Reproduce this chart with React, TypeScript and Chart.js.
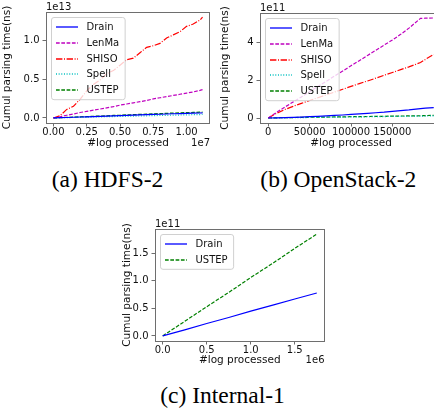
import React, { useEffect, useRef } from 'react';
import { Chart, registerables } from 'chart.js';

Chart.register(...registerables);

const FONT = '"DejaVu Sans", sans-serif';
const TEXT = '#111';
const SPINE = '#6e6e6e';

// ---------- (a) HDFS-2 : x = #log processed, y in units of 1e13 ns ----------
const hdfsLogs = [0, 500000, 1000000, 1500000, 2000000, 2500000, 3000000, 3500000, 4000000, 4500000, 5000000, 5500000, 6000000, 6500000, 7000000, 7500000, 8000000, 8500000, 9000000, 9500000, 10000000, 10500000, 11000000, 11200000];
const hdfsDrain = [0, 0.003, 0.006, 0.009, 0.012, 0.015, 0.018, 0.021, 0.024, 0.027, 0.03, 0.033, 0.036, 0.039, 0.042, 0.045, 0.048, 0.051, 0.054, 0.056, 0.059, 0.061, 0.064, 0.065];
const hdfsLenMa = [0, 0.015, 0.035, 0.05, 0.07, 0.085, 0.1, 0.115, 0.13, 0.145, 0.165, 0.18, 0.195, 0.21, 0.225, 0.245, 0.26, 0.275, 0.29, 0.305, 0.32, 0.335, 0.355, 0.365];
const hdfsSHISO = [0, 0.03, 0.11, 0.15, 0.24, 0.35, 0.43, 0.49, 0.57, 0.61, 0.68, 0.75, 0.77, 0.84, 0.91, 0.93, 0.96, 1.03, 1.07, 1.11, 1.18, 1.21, 1.26, 1.3];
const hdfsSpell = [0, 0.002, 0.004, 0.006, 0.008, 0.01, 0.012, 0.014, 0.016, 0.018, 0.02, 0.022, 0.024, 0.026, 0.028, 0.03, 0.032, 0.034, 0.036, 0.038, 0.04, 0.042, 0.044, 0.045];
const hdfsUSTEP = [0, 0.004, 0.007, 0.011, 0.014, 0.018, 0.021, 0.025, 0.028, 0.032, 0.035, 0.039, 0.042, 0.046, 0.049, 0.052, 0.056, 0.059, 0.063, 0.066, 0.069, 0.071, 0.074, 0.075];
const hdfsXTicks = [0, 2500000, 5000000, 7500000, 10000000];
const hdfsYTicks = [0, 0.5e13, 1.0e13];

// ---------- (b) OpenStack-2 : y in units of 1e11 ns ----------
const osLogs = [0, 10000, 20000, 30000, 40000, 50000, 60000, 70000, 80000, 90000, 100000, 110000, 120000, 130000, 140000, 150000, 160000, 170000, 184000, 190000, 200000];
const osDrain = [0, 0.01, 0.02, 0.035, 0.05, 0.07, 0.09, 0.11, 0.135, 0.16, 0.19, 0.22, 0.25, 0.28, 0.31, 0.35, 0.39, 0.43, 0.5, 0.53, 0.55];
const osLenMa = [0, 0.3, 0.58, 0.85, 1.12, 1.4, 1.68, 1.95, 2.23, 2.5, 2.78, 3.05, 3.33, 3.6, 3.88, 4.15, 4.45, 4.78, 5.3, 5.31, 5.32];
const osSHISO = [0, 0.25, 0.45, 0.62, 0.78, 0.93, 1.08, 1.23, 1.38, 1.53, 1.68, 1.83, 1.97, 2.12, 2.27, 2.42, 2.57, 2.72, 2.95, 3.12, 3.38];
const osSpell = [0, 0.005, 0.011, 0.016, 0.022, 0.027, 0.033, 0.038, 0.044, 0.049, 0.055, 0.06, 0.066, 0.071, 0.077, 0.082, 0.088, 0.093, 0.101, 0.104, 0.11];
const osUSTEP = [0, 0.01, 0.02, 0.025, 0.03, 0.04, 0.045, 0.05, 0.055, 0.06, 0.07, 0.075, 0.08, 0.085, 0.09, 0.1, 0.105, 0.11, 0.12, 0.13, 0.14];
const osXTicks = [0, 50000, 100000, 150000];
const osYTicks = [0, 2e11, 4e11];

// ---------- (c) Internal-1 : y in units of 1e11 ns ----------
const intLogs = [0, 250000, 500000, 750000, 1000000, 1250000, 1500000, 1750000];
const intDrain = [0, 0.11, 0.225, 0.335, 0.45, 0.56, 0.67, 0.78];
const intUSTEP = [0, 0.265, 0.53, 0.79, 1.06, 1.32, 1.59, 1.85];
const intXTicks = [0, 500000, 1000000, 1500000];
const intYTicks = [0, 0.5e11, 1.0e11, 1.5e11];

const captions = ['(a) HDFS-2', '(b) OpenStack-2', '(c) Internal-1'];

const STYLE: Record<string, { color: string; dash: number[] }> = {
  Drain: { color: '#0000ff', dash: [] },
  LenMa: { color: '#bf00bf', dash: [3.7, 1.6] },
  SHISO: { color: '#ff0000', dash: [6.4, 1.6, 1, 1.6] },
  Spell: { color: '#00bfbf', dash: [1, 1.65] },
  USTEP: { color: '#008000', dash: [3.7, 1.6] },
};

type Series = { label: string; xs: number[]; ys: number[] };
type Panel = {
  left: number; top: number; width: number; height: number;
  padTop: number; padRight: number; yW: number; xH: number;
  xTitlePB: number; yTitlePT: number;
  xMin: number; xMax: number; xTicks: number[]; xFmt: (v: number) => string;
  yMin: number; yMax: number; yTicks: number[]; yFmt: (v: number) => string;
  yScale: number; yOffset: string; xOffset: string;
  series: Series[];
};

const panels: Panel[] = [
  {
    left: 0, top: 0, width: 217, height: 152, padTop: 12, padRight: 7, yW: 46, xH: 29,
    xTitlePB: 2, yTitlePT: 1.2,
    xMin: -560000, xMax: 11760000, xTicks: hdfsXTicks, xFmt: (v) => (v / 1e7).toFixed(2),
    yMin: -0.065e13, yMax: 1.365e13, yTicks: hdfsYTicks, yFmt: (v) => (v / 1e13).toFixed(1),
    yScale: 1e13, yOffset: '1e13', xOffset: '1e7',
    series: [
      { label: 'Drain', xs: hdfsLogs, ys: hdfsDrain },
      { label: 'LenMa', xs: hdfsLogs, ys: hdfsLenMa },
      { label: 'SHISO', xs: hdfsLogs, ys: hdfsSHISO },
      { label: 'Spell', xs: hdfsLogs, ys: hdfsSpell },
      { label: 'USTEP', xs: hdfsLogs, ys: hdfsUSTEP },
    ],
  },
  {
    left: 217, top: 0, width: 232, height: 152, padTop: 13, padRight: 7, yW: 43, xH: 29,
    xTitlePB: 2, yTitlePT: 1.7,
    xMin: -10000, xMax: 210000, xTicks: osXTicks, xFmt: (v) => String(Math.round(v)),
    yMin: -0.266e11, yMax: 5.586e11, yTicks: osYTicks, yFmt: (v) => (v / 1e11).toFixed(0),
    yScale: 1e11, yOffset: '1e11', xOffset: '',
    series: [
      { label: 'Drain', xs: osLogs, ys: osDrain },
      { label: 'LenMa', xs: osLogs, ys: osLenMa },
      { label: 'SHISO', xs: osLogs, ys: osSHISO },
      { label: 'Spell', xs: osLogs, ys: osSpell },
      { label: 'USTEP', xs: osLogs, ys: osUSTEP },
    ],
  },
  {
    left: 120, top: 215, width: 212, height: 155, padTop: 14, padRight: 7.5, yW: 35, xH: 29,
    xTitlePB: 3.3, yTitlePT: 1.2,
    xMin: -87500, xMax: 1837500, xTicks: intXTicks, xFmt: (v) => (v / 1e6).toFixed(1),
    yMin: -0.0925e11, yMax: 1.9425e11, yTicks: intYTicks, yFmt: (v) => (v / 1e11).toFixed(1),
    yScale: 1e11, yOffset: '1e11', xOffset: '1e6',
    series: [
      { label: 'Drain', xs: intLogs, ys: intDrain },
      { label: 'USTEP', xs: intLogs, ys: intUSTEP },
    ],
  },
];

const decorPlugin = {
  id: 'mplDecor',
  afterDatasetsDraw(chart: any, _args: any, opts: any) {
    const { ctx, chartArea: ca } = chart;
    ctx.save();
    // spines
    ctx.setLineDash([]);
    ctx.strokeStyle = SPINE;
    ctx.lineWidth = 1;
    ctx.strokeRect(Math.round(ca.left) + 0.5, Math.round(ca.top) + 0.5, Math.round(ca.right - ca.left) - 1, Math.round(ca.bottom - ca.top));
    // legend
    ctx.font = '10px ' + FONT;
    const ds = chart.data.datasets;
    let maxW = 0;
    ds.forEach((d: any) => { maxW = Math.max(maxW, ctx.measureText(d.label).width); });
    const bx = ca.left + 5.5, by = ca.top + 5.5;
    const bw = 35 + maxW + 6;
    const bh = 19 + (ds.length - 1) * 15.8;
    ctx.beginPath();
    ctx.roundRect(bx, by, bw, bh, 2.5);
    ctx.fillStyle = 'rgba(255,255,255,0.8)';
    ctx.fill();
    ctx.strokeStyle = '#d0d0d0';
    ctx.lineWidth = 1;
    ctx.stroke();
    ds.forEach((d: any, i: number) => {
      const y = Math.round(by + 9.5 + i * 15.8);
      const st = STYLE[d.label];
      ctx.beginPath();
      ctx.setLineDash(st.dash);
      ctx.strokeStyle = st.color;
      ctx.lineWidth = 1.3;
      ctx.moveTo(bx + 4.5, y);
      ctx.lineTo(bx + 26.5, y);
      ctx.stroke();
      ctx.setLineDash([]);
      ctx.fillStyle = TEXT;
      ctx.textAlign = 'left';
      ctx.textBaseline = 'middle';
      ctx.fillText(d.label, bx + 35, y);
    });
    // offset texts
    ctx.fillStyle = TEXT;
    if (opts.yOffset) {
      ctx.textAlign = 'left';
      ctx.textBaseline = 'alphabetic';
      ctx.fillText(opts.yOffset, ca.left, ca.top - 2);
    }
    if (opts.xOffset) {
      ctx.textAlign = 'right';
      ctx.textBaseline = 'middle';
      ctx.fillText(opts.xOffset, ca.right, opts.xOffsetY);
    }
    ctx.restore();
  },
};

function PanelChart({ p }: { p: Panel }) {
  const ref = useRef<HTMLCanvasElement | null>(null);
  useEffect(() => {
    if (!ref.current) return;
    const datasets = p.series.map((s) => ({
      label: s.label,
      data: s.xs.map((x, i) => ({ x, y: s.ys[i] * p.yScale })),
      borderColor: STYLE[s.label].color,
      borderDash: STYLE[s.label].dash,
      borderWidth: 1.2,
      pointRadius: 0,
      fill: false,
      tension: 0,
    }));
    const tickFont = { family: FONT, size: 10 };
    const titleFont = { family: FONT, size: 10.5 };
    const chart = new Chart(ref.current, {
      type: 'line',
      data: { datasets },
      options: {
        animation: false,
        responsive: false,
        maintainAspectRatio: false,
        events: [],
        layout: { padding: { left: 0, top: p.padTop, right: p.padRight, bottom: 0 } },
        scales: {
          x: {
            type: 'linear',
            min: p.xMin,
            max: p.xMax,
            afterBuildTicks: (s: any) => { s.ticks = p.xTicks.map((value) => ({ value })); s.min = p.xMin; s.max = p.xMax; },
            afterFit: (s: any) => { s.height = p.xH; },
            ticks: { autoSkip: false, maxRotation: 0, minRotation: 0, padding: 0, color: TEXT, font: tickFont, callback: (v: any) => p.xFmt(Number(v)) },
            grid: { drawOnChartArea: false, drawTicks: true, tickLength: 3.5, tickColor: SPINE, lineWidth: 1 },
            border: { display: false },
            title: { display: true, text: '#log processed', color: TEXT, font: titleFont, padding: { top: 0, bottom: p.xTitlePB } },
          },
          y: {
            type: 'linear',
            min: p.yMin,
            max: p.yMax,
            afterBuildTicks: (s: any) => { s.ticks = p.yTicks.map((value) => ({ value })); s.min = p.yMin; s.max = p.yMax; },
            afterFit: (s: any) => { s.width = p.yW; },
            ticks: { autoSkip: false, padding: 3, color: TEXT, font: tickFont, callback: (v: any) => p.yFmt(Number(v)) },
            grid: { drawOnChartArea: false, drawTicks: true, tickLength: 3.5, tickColor: SPINE, lineWidth: 1 },
            border: { display: false },
            title: { display: true, text: 'Cumul parsing time(ns)', color: TEXT, font: titleFont, padding: { top: p.yTitlePT, bottom: 0 } },
          },
        },
        plugins: {
          legend: { display: false },
          tooltip: { enabled: false },
          mplDecor: { yOffset: p.yOffset, xOffset: p.xOffset, xOffsetY: p.height - p.xTitlePB - 6.3 },
        } as any,
      },
      plugins: [decorPlugin],
    } as any);
    return () => chart.destroy();
  }, [p]);
  return (
    <canvas
      ref={ref}
      width={p.width}
      height={p.height}
      style={{ position: 'absolute', left: p.left, top: p.top, width: p.width, height: p.height }}
    />
  );
}

const captionPos = [
  { cx: 107.5, cy: 181.5 },
  { cx: 338.3, cy: 181.5 },
  { cx: 222.5, cy: 398 },
];

export default function App() {
  return (
    <div style={{ position: 'absolute', left: 0, top: 0, width: 434, height: 419, overflow: 'hidden', background: '#fff' }}>
      {panels.map((p, i) => <PanelChart key={i} p={p} />)}
      {captions.map((c, i) => (
        <div
          key={c}
          style={{
            position: 'absolute',
            left: captionPos[i].cx - 120,
            width: 240,
            top: captionPos[i].cy - 13.6,
            textAlign: 'center',
            fontFamily: '"Liberation Serif", "Times New Roman", serif',
            fontSize: 23.5,
            lineHeight: '23.5px',
            color: '#000',
            whiteSpace: 'nowrap',
          }}
        >
          {c}
        </div>
      ))}
    </div>
  );
}
